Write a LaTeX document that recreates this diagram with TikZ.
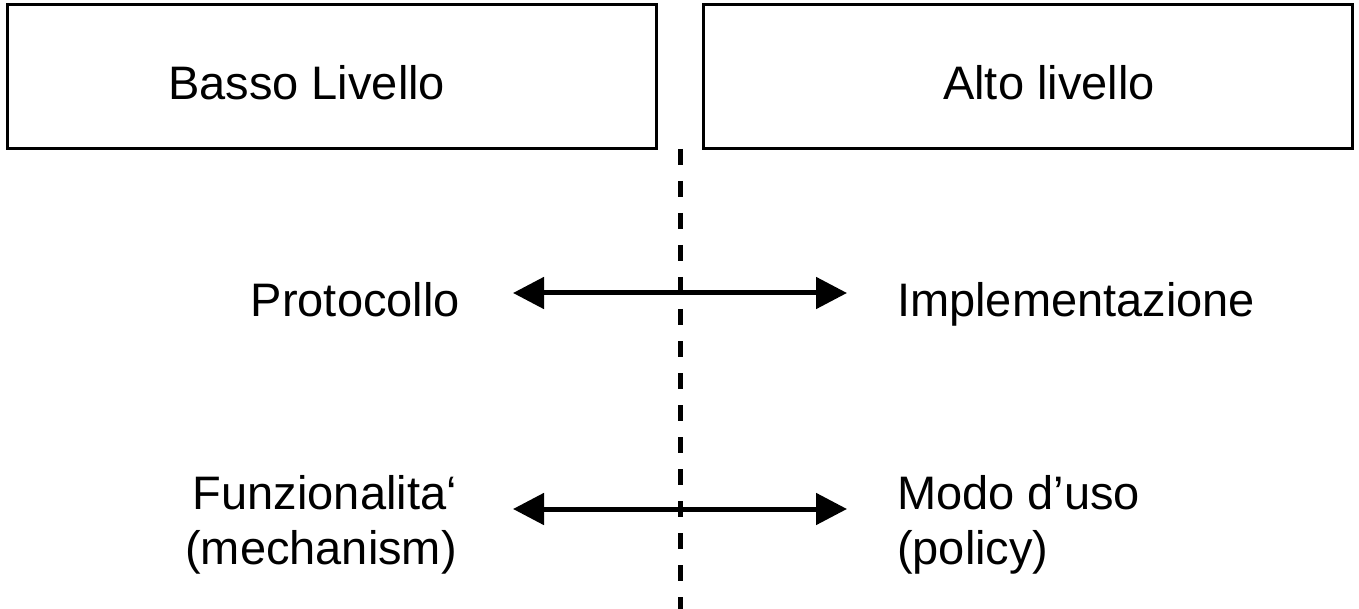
\documentclass[tikz,border=0pt]{standalone}
\usepackage{fontspec}
\setmainfont{Liberation Sans}
\usetikzlibrary{arrows.meta}
\tikzset{
  box/.style={draw, line width=3pt, inner sep=0pt},
  lbl/.style={inner sep=0pt, font=\fontsize{47}{55}\selectfont},
  arr/.style={line width=5pt, {Triangle[length=31pt,width=31pt]}-{Triangle[length=31pt,width=31pt]}},
  divider/.style={line width=5pt, dash pattern=on 16pt off 16pt}
}
\begin{document}
\begin{tikzpicture}[x=1pt,y=-1pt]
\useasboundingbox (0,0) rectangle (1359,609);
% boxes
\node[box, minimum width=649pt, minimum height=144pt] (low) at (331.5,77) {};
\node[box, minimum width=649pt, minimum height=144pt] (high) at (1027.5,77) {};
\node[lbl, anchor=base west] (lowt) at (168,100) {Basso Livello};
\node[lbl, anchor=base west] (hight) at (943,100) {Alto livello};
% divider
\coordinate (dtop) at (680,149);
\coordinate (dbot) at (680,613);
\draw[divider] (dtop) -- (dbot);
% labels
\node[lbl, anchor=base east] (proto) at (460,317) {Protocollo};
\node[lbl, anchor=base west] (impl) at (897,317) {Implementazione};
\node[lbl, anchor=base east, align=right] (funz) at (457,564) {Funzionalita‘\\(mechanism)};
\node[lbl, anchor=base west, align=left] (modo) at (897,564) {Modo d’uso\\(policy)};
% arrows
\draw[arr] ([shift={(53pt,24pt)}]proto.base east) -- ([shift={(-50pt,24pt)}]impl.base west);
\draw[arr] ([shift={(56pt,55pt)}]funz.base east) -- ([shift={(-50pt,55pt)}]modo.base west);
\end{tikzpicture}
\end{document}
